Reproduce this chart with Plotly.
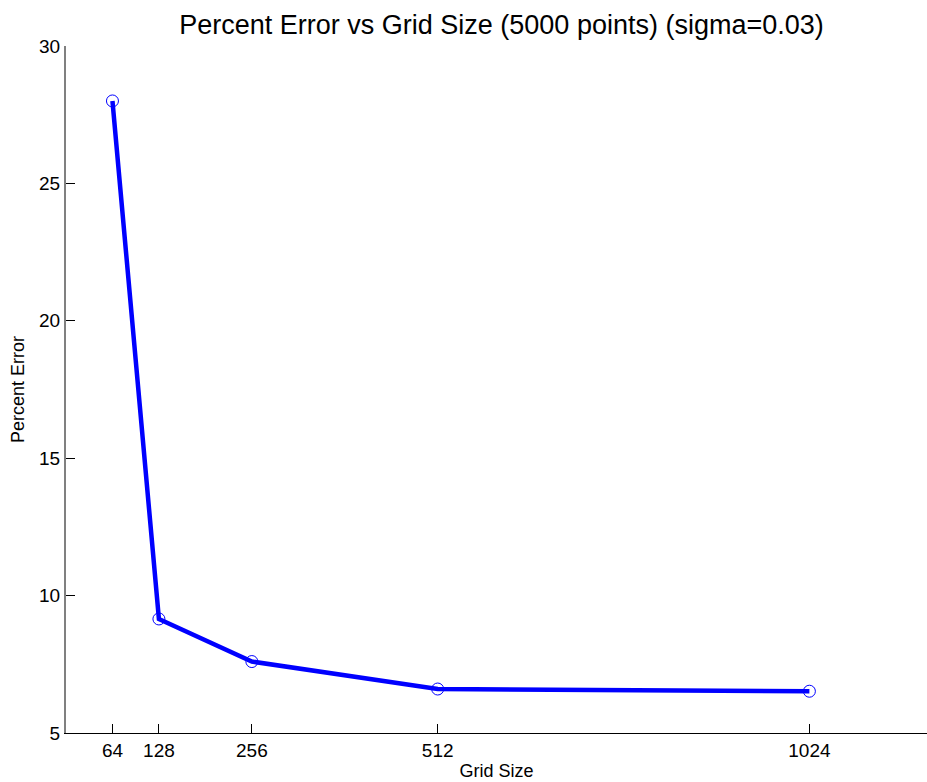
import plotly.graph_objects as go

grid_size = [64, 128, 256, 512, 1024]
percent_error = [28.0, 9.15, 7.6, 6.6, 6.52]
x_ticks = [64, 128, 256, 512, 1024]
y_ticks = [5, 10, 15, 20, 25, 30]

fig = go.Figure()
fig.add_trace(go.Scatter(
    x=grid_size, y=percent_error, mode="lines+markers",
    line=dict(color="#0000ff", width=4.5),
    marker=dict(symbol="circle-open", size=12, color="#0000ff", line=dict(width=1, color="#0000ff")),
    showlegend=False,
))

font = "Liberation Sans, Arial, sans-serif"
fig.update_layout(
    width=927, height=782,
    margin=dict(l=66, r=0, t=46, b=49, autoexpand=False),
    paper_bgcolor="white", plot_bgcolor="white",
    font=dict(family=font, color="black"),
    title=dict(text="Percent Error vs Grid Size (5000 points) (sigma=0.03)",
               x=0.541, xanchor="center", y=0.968, yanchor="middle",
               font=dict(size=27, family=font, color="black")),
    xaxis=dict(
        range=[0, 1186], tickvals=x_ticks, ticktext=[str(v) for v in x_ticks],
        ticks="inside", ticklen=9, tickwidth=1, tickcolor="black",
        showline=True, linecolor="black", linewidth=1, mirror=False,
        showgrid=False, zeroline=False, automargin=False,
        tickfont=dict(size=19), title=dict(text="Grid Size", font=dict(size=18), standoff=4),
    ),
    yaxis=dict(
        range=[5, 30], tickvals=y_ticks,
        ticks="inside", ticklen=9, tickwidth=1, tickcolor="black",
        showline=True, linecolor="#808080", linewidth=2, mirror=False,
        showgrid=False, zeroline=False, automargin=False,
        tickfont=dict(size=19), title=dict(text="Percent Error", font=dict(size=18), standoff=10),
    ),
)
fig.write_html("out.html", config={"displayModeBar": False},
               post_script="document.body.style.margin='0';document.body.style.overflow='hidden';")
